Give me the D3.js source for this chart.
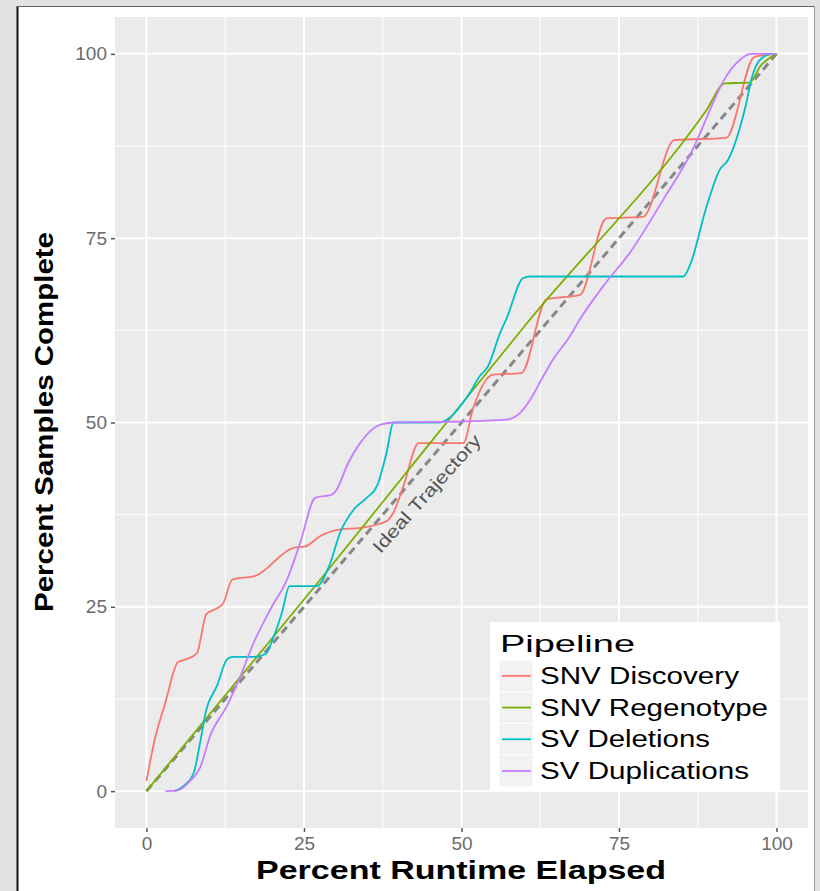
<!DOCTYPE html>
<html>
<head>
<meta charset="utf-8">
<script src="https://cdn.jsdelivr.net/npm/d3@7"></script>
<style>
  html, body { margin: 0; padding: 0; background: #e2e2e2; }
  svg { display: block; font-family: "Liberation Sans", Arial, sans-serif; }
</style>
</head>
<body>
<svg id="chart" width="820" height="891"></svg>
<script>
// ---------- data ----------
const xTicks = [0, 25, 50, 75, 100];
const yTicks = [0, 25, 50, 75, 100];
const pipelines = ["SNV Discovery", "SNV Regenotype", "SV Deletions", "SV Duplications"];
const pipelineColors = ["#F8766D", "#7CAE00", "#00BFC4", "#C77CFF"];

const snvDiscovery = [[0,1.4],[1.2,6.6],[3,12],[5,17.5],[6.4,17.9],[8,18.7],[9.5,24],[11.2,24.8],
  [12.2,25.5],[13.6,28.7],[17.3,29.2],[23.3,33],[25.2,33.2],[27.6,34.6],[30.7,35.5],[33.9,35.7],
  [38.1,36.6],[39.2,37.8],[40.8,41.4],[43.2,47.2],[50.3,47.2],[51.8,51.8],[55,56.5],[59.5,56.7],
  [63.5,66.7],[68.8,67.3],[73,77.7],[78.8,77.9],[83.8,88.3],[92,88.6],[96.5,99.6],[100,100]];
const snvRegenotype = [[0,0],[27.6,28.7],[45,47.2],[60.9,64],[88.9,92.4],[91.8,96],[95.7,96.1],[97.5,98.4],[100,100]];
const svDeletions = [[4.5,0],[5.9,0.7],[7.5,2.5],[8.6,7],[9.4,10.7],[11.2,14.3],[12.8,17.9],[13.8,18.2],
  [17,18.2],[18.9,18.6],[20.2,21],[21.5,24.2],[22.7,27.8],[27,27.8],[29.2,31],[30.7,35],[32.9,38.2],
  [35,39.8],[36.6,41.4],[38.1,45.9],[39.2,50],[46.6,50],[47.7,50.4],[51.3,54],[52.9,56.3],[54.2,57.6],
  [56.1,62.1],[57.2,64.2],[59.8,69.6],[60.9,69.8],[85.2,69.8],[86.2,71.2],[88.9,79.3],[91,84.3],
  [92.3,85.6],[94.1,89.7],[95.2,93.3],[96,96.5],[97.4,99.2],[99.4,100],[100,100]];
const svDuplications = [[3,0],[4.9,0.1],[6.7,1.2],[8.6,3.4],[10.1,7.5],[12.8,11.6],[14.9,15.6],[17,20.1],
  [19.7,24.7],[22.3,28.7],[24.4,33.7],[26.8,39.8],[29.4,40.2],[30.2,40.9],[31.8,44.1],[33.9,47.2],
  [37.1,49.7],[39.2,50],[48.2,50.1],[57.2,50.4],[59.3,51.3],[60.9,53.1],[63,56.3],[64.5,58.5],
  [67.2,61.7],[68.8,64],[72.5,68.5],[76.7,73],[82,80.2],[86.7,87],[89.9,93.3],[91.5,96.2],
  [93.6,98.7],[96,100],[100,100]];
const idealLine = [[0,0],[100,100]];
const idealLabel = "Ideal Trajectory";
const idealLabelAt = [45.2, 39.8];
const xTitle = "Percent Runtime Elapsed";
const yTitle = "Percent Samples Complete";
const legendTitle = "Pipeline";

const seriesList = [snvDiscovery, snvRegenotype, svDeletions, svDuplications];

// ---------- layout ----------
const svg = d3.select("#chart");
const P = { left: 115, right: 808, top: 17, bottom: 828 };

// page frame (screenshot-like)
svg.append("rect").attr("x", 0).attr("y", 0).attr("width", 820).attr("height", 891).attr("fill", "#e2e2e2");
svg.append("rect").attr("x", 18).attr("y", 7).attr("width", 796).attr("height", 890).attr("fill", "#ffffff");
svg.append("line").attr("x1", 17.5).attr("x2", 17.5).attr("y1", 6).attr("y2", 891).attr("stroke", "#111").attr("stroke-width", 2);
svg.append("line").attr("x1", 17).attr("x2", 815).attr("y1", 6.5).attr("y2", 6.5).attr("stroke", "#666").attr("stroke-width", 1);
svg.append("line").attr("x1", 814.5).attr("x2", 814.5).attr("y1", 6).attr("y2", 891).attr("stroke", "#9a9a9a").attr("stroke-width", 1);

const x = d3.scaleLinear().domain([-5, 105]).range([P.left, P.right]);
const y = d3.scaleLinear().domain([-5, 105]).range([P.bottom, P.top]);

// panel
svg.append("rect").attr("x", P.left).attr("y", P.top)
  .attr("width", P.right - P.left).attr("height", P.bottom - P.top).attr("fill", "#ebebeb");

const minorX = d3.range(0, xTicks.length - 1).map(i => (xTicks[i] + xTicks[i + 1]) / 2);
const minorY = d3.range(0, yTicks.length - 1).map(i => (yTicks[i] + yTicks[i + 1]) / 2);
const grid = svg.append("g");
grid.selectAll(".mx").data(minorX).join("line")
  .attr("x1", d => x(d)).attr("x2", d => x(d)).attr("y1", P.top).attr("y2", P.bottom)
  .attr("stroke", "#fff").attr("stroke-width", 1);
grid.selectAll(".my").data(minorY).join("line")
  .attr("y1", d => y(d)).attr("y2", d => y(d)).attr("x1", P.left).attr("x2", P.right)
  .attr("stroke", "#fff").attr("stroke-width", 1);
grid.selectAll(".gx").data(xTicks).join("line")
  .attr("x1", d => x(d)).attr("x2", d => x(d)).attr("y1", P.top).attr("y2", P.bottom)
  .attr("stroke", "#fff").attr("stroke-width", 2);
grid.selectAll(".gy").data(yTicks).join("line")
  .attr("y1", d => y(d)).attr("y2", d => y(d)).attr("x1", P.left).attr("x2", P.right)
  .attr("stroke", "#fff").attr("stroke-width", 2);

// axes
const xAxis = svg.append("g").attr("transform", `translate(0,${P.bottom})`)
  .call(d3.axisBottom(x).tickValues(xTicks).tickSize(4).tickPadding(5));
const yAxis = svg.append("g").attr("transform", `translate(${P.left},0)`)
  .call(d3.axisLeft(y).tickValues(yTicks).tickSize(4).tickPadding(4));
[xAxis, yAxis].forEach(a => {
  a.select(".domain").remove();
  a.selectAll(".tick line").attr("stroke", "#555").attr("stroke-width", 1.5);
  a.selectAll(".tick text").attr("fill", "#6b6b6b").attr("font-size", 19)
    .attr("font-family", "Liberation Sans, Arial, sans-serif");
});

// ideal line
const line = d3.line().x(d => x(d[0])).y(d => y(d[1]));
svg.append("path").datum(idealLine).attr("d", line)
  .attr("fill", "none").attr("stroke", "#878787").attr("stroke-width", 3).attr("stroke-dasharray", "8,5");

// series
const smooth = d3.line().x(d => x(d[0])).y(d => y(d[1])).curve(d3.curveMonotoneX);
svg.append("g").selectAll("path").data(seriesList).join("path")
  .attr("d", smooth).attr("fill", "none")
  .attr("stroke", (d, i) => pipelineColors[i]).attr("stroke-width", 1.8);

// ideal label
const ang = Math.atan2(y(100) - y(0), x(100) - x(0)) * 180 / Math.PI;
svg.append("text")
  .attr("transform", `translate(${x(idealLabelAt[0])},${y(idealLabelAt[1])}) rotate(${ang + 1.5})`)
  .attr("text-anchor", "middle").attr("font-size", 18).attr("fill", "#555")
  .attr("textLength", 152).attr("lengthAdjust", "spacingAndGlyphs")
  .text(idealLabel);

// axis titles
svg.append("text").attr("x", 461).attr("y", 879).attr("text-anchor", "middle")
  .attr("font-size", 25).attr("font-weight", "bold").attr("fill", "#000")
  .attr("textLength", 410).attr("lengthAdjust", "spacingAndGlyphs").text(xTitle);
svg.append("text").attr("transform", "translate(53,422) rotate(-90)").attr("text-anchor", "middle")
  .attr("font-size", 25).attr("font-weight", "bold").attr("fill", "#000")
  .attr("textLength", 380).attr("lengthAdjust", "spacingAndGlyphs").text(yTitle);

// legend
const lg = svg.append("g");
lg.append("rect").attr("x", 490).attr("y", 622).attr("width", 290).attr("height", 170).attr("fill", "#fff");
lg.append("text").attr("x", 500).attr("y", 652).attr("font-size", 24).attr("fill", "#000")
  .attr("textLength", 135).attr("lengthAdjust", "spacingAndGlyphs").text(legendTitle);
const labelLens = [199, 228, 170, 209];
const rowH = 31.7, row0 = 660;
pipelines.forEach((name, i) => {
  const ry = row0 + i * rowH;
  lg.append("rect").attr("x", 499).attr("y", ry).attr("width", 34).attr("height", rowH)
    .attr("fill", "#f2f2f2").attr("stroke", "#fff").attr("stroke-width", 1);
  lg.append("line").attr("x1", 502).attr("x2", 531).attr("y1", ry + rowH / 2).attr("y2", ry + rowH / 2)
    .attr("stroke", pipelineColors[i]).attr("stroke-width", 1.8);
  lg.append("text").attr("x", 540).attr("y", ry + rowH / 2 + 8).attr("font-size", 23).attr("fill", "#000")
    .attr("textLength", labelLens[i]).attr("lengthAdjust", "spacingAndGlyphs").text(name);
});
</script>
</body>
</html>
